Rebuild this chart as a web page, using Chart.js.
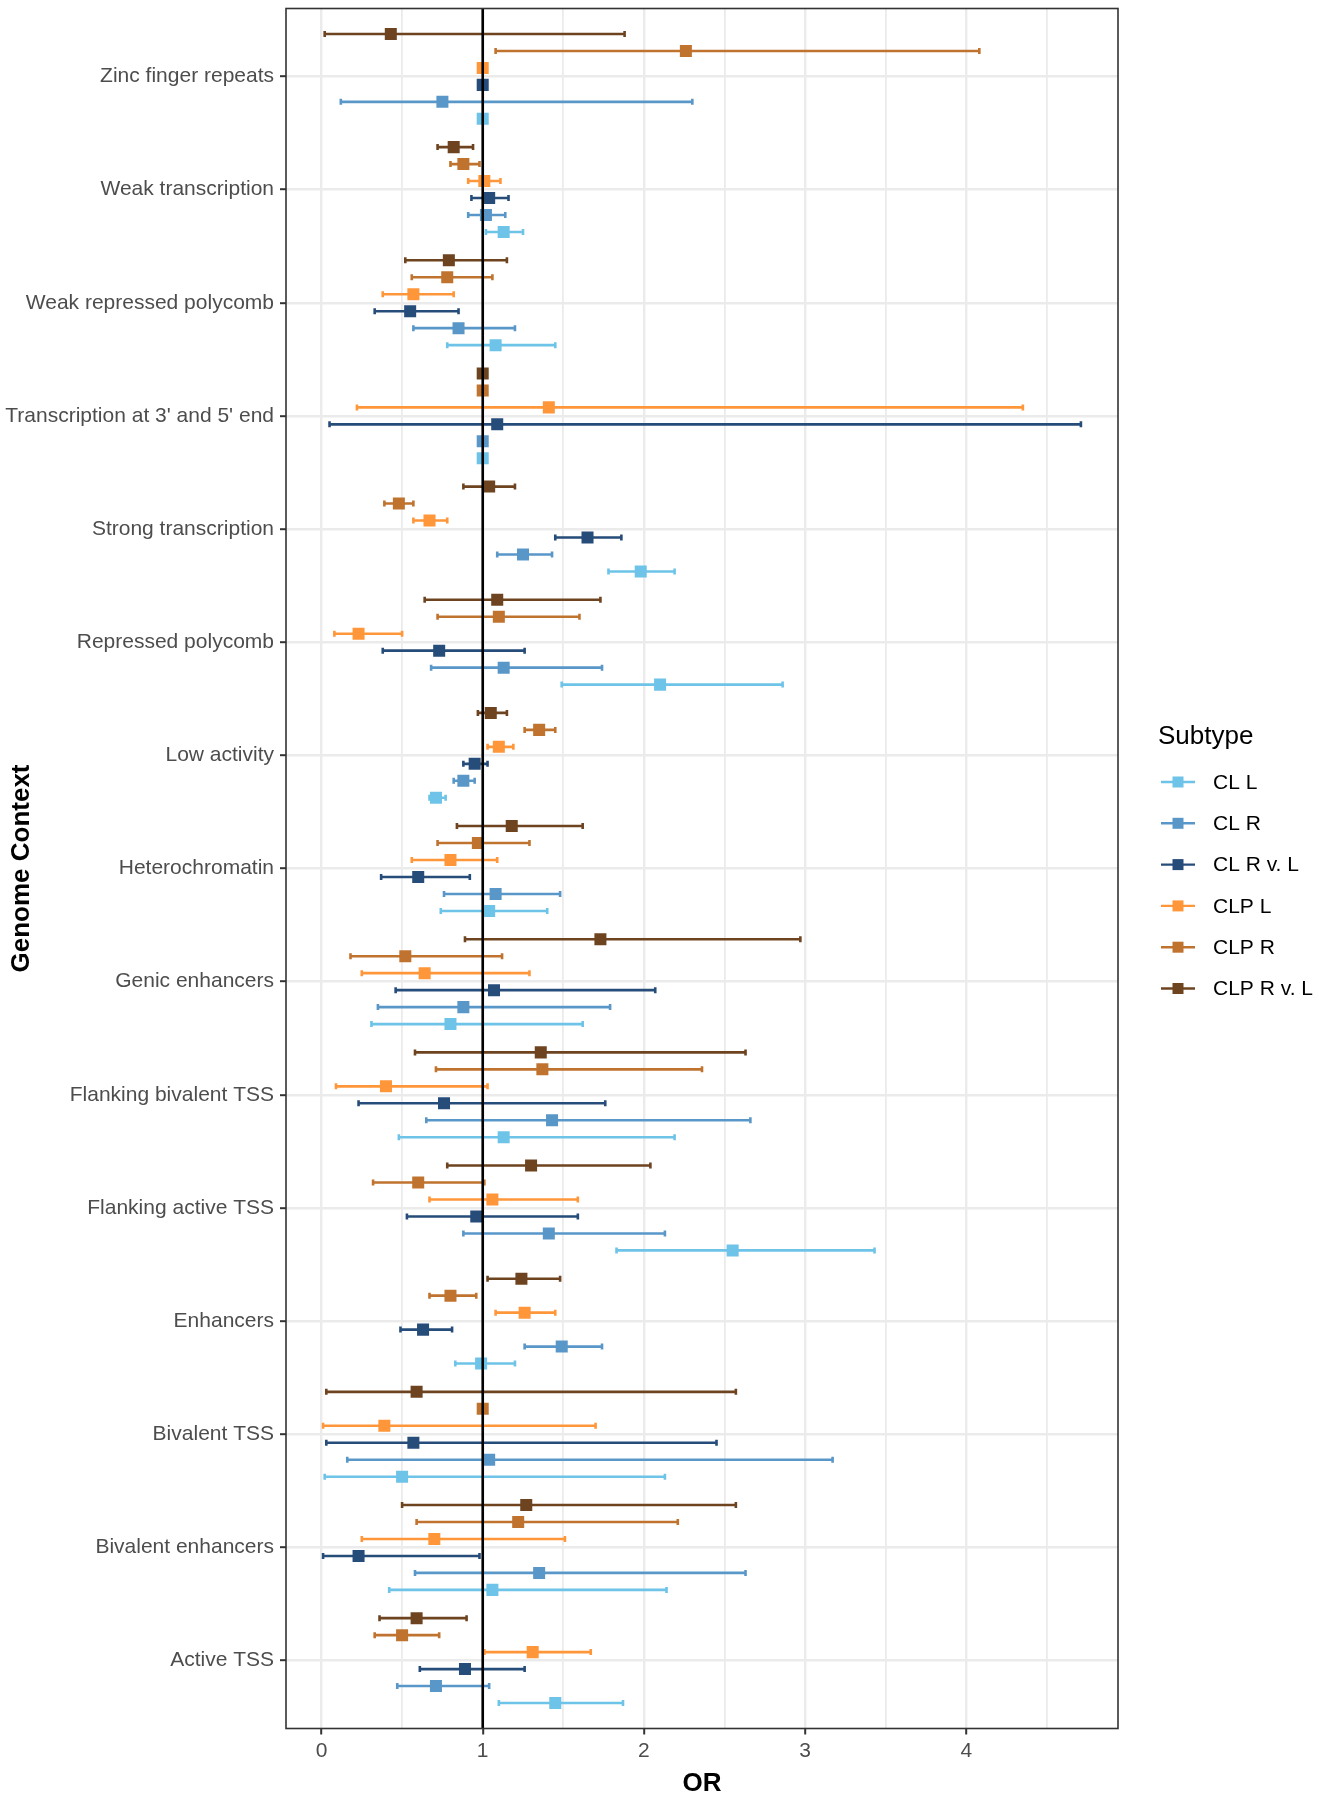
<!DOCTYPE html>
<html><head><meta charset="utf-8">
<script src="https://cdn.jsdelivr.net/npm/chart.js@4/dist/chart.umd.min.js"></script>
<style>html,body{margin:0;padding:0;background:#fff;} canvas{display:block;}</style>
</head><body>
<canvas id="c" width="1319" height="1800" style="width:1319px;height:1800px"></canvas>
<script>
// Categories listed top to bottom as they appear
const categories = ["Zinc finger repeats","Weak transcription","Weak repressed polycomb","Transcription at 3' and 5' end","Strong transcription","Repressed polycomb","Low activity","Heterochromatin","Genic enhancers","Flanking bivalent TSS","Flanking active TSS","Enhancers","Bivalent TSS","Bivalent enhancers","Active TSS"];
const seriesNames = ["CL L","CL R","CL R v. L","CLP L","CLP R","CLP R v. L"];
const seriesColors = ["#6EC3E8","#5A97C9","#264C7A","#FF973A","#C0732F","#6E4420"];
const xTickValues = [0,0.5,1,1.5,2,2.5,3,3.5,4,4.5];

const orCLL = [1.00,1.13,1.08,1.00,1.98,2.10,0.71,1.04,0.80,1.13,2.55,0.99,0.50,1.06,1.45];
const loCLL = [1.00,1.02,0.78,1.00,1.78,1.49,0.67,0.74,0.31,0.48,1.83,0.83,0.02,0.42,1.10];
const hiCLL = [1.00,1.25,1.45,1.00,2.19,2.86,0.77,1.40,1.62,2.19,3.43,1.20,2.13,2.14,1.87];

const orCLR = [0.75,1.02,0.85,1.00,1.25,1.13,0.88,1.08,0.88,1.43,1.41,1.49,1.04,1.35,0.71];
const loCLR = [0.12,0.91,0.57,1.00,1.09,0.68,0.82,0.76,0.35,0.65,0.88,1.26,0.16,0.58,0.47];
const hiCLR = [2.30,1.14,1.20,1.00,1.43,1.74,0.95,1.48,1.79,2.66,2.13,1.74,3.17,2.63,1.04];

const orCLRvL = [1.00,1.04,0.55,1.09,1.65,0.73,0.95,0.60,1.07,0.76,0.96,0.63,0.57,0.23,0.89];
const loCLRvL = [1.00,0.93,0.33,0.05,1.45,0.38,0.88,0.37,0.46,0.23,0.53,0.49,0.03,0.01,0.61];
const hiCLRvL = [1.00,1.16,0.85,4.71,1.86,1.26,1.03,0.92,2.07,1.76,1.59,0.81,2.45,0.98,1.26];

const orCLPL = [1.00,1.01,0.57,1.41,0.67,0.23,1.10,0.80,0.64,0.40,1.06,1.26,0.39,0.70,1.31];
const loCLPL = [1.00,0.91,0.38,0.22,0.57,0.08,1.03,0.56,0.25,0.09,0.67,1.08,0.01,0.25,1.01];
const hiCLPL = [1.00,1.11,0.82,4.35,0.78,0.50,1.19,1.09,1.29,1.03,1.59,1.45,1.70,1.51,1.67];

const orCLPR = [2.26,0.88,0.78,1.00,0.48,1.10,1.35,0.97,0.52,1.37,0.60,0.80,1.00,1.22,0.50];
const loCLPR = [1.08,0.80,0.56,1.00,0.39,0.72,1.26,0.72,0.18,0.71,0.32,0.67,1.00,0.59,0.33];
const hiCLPR = [4.08,0.98,1.06,1.00,0.57,1.60,1.45,1.29,1.12,2.36,1.01,0.96,1.00,2.21,0.73];

const orCLPRvL = [0.43,0.82,0.79,1.00,1.04,1.09,1.05,1.18,1.73,1.36,1.30,1.24,0.59,1.27,0.59];
const loCLPRvL = [0.02,0.72,0.52,1.00,0.88,0.64,0.97,0.84,0.89,0.58,0.78,1.03,0.03,0.50,0.36];
const hiCLPRvL = [1.88,0.94,1.15,1.00,1.20,1.73,1.15,1.62,2.97,2.63,2.04,1.48,2.57,2.57,0.90];

const orSeries = [orCLL, orCLR, orCLRvL, orCLPL, orCLPR, orCLPRvL];
const loSeries = [loCLL, loCLR, loCLRvL, loCLPL, loCLPR, loCLPRvL];
const hiSeries = [hiCLL, hiCLR, hiCLRvL, hiCLPL, hiCLPR, hiCLPRvL];

const FONT = '"Liberation Sans", Arial, Helvetica, sans-serif';
Chart.defaults.font.family = FONT;

const dodge = 0.15;
const datasets = seriesNames.map((name, s) => ({
  label: name,
  data: categories.map((c, i) => ({
    x: orSeries[s][i],
    y: i + (2.5 - s) * dodge,
    lo: loSeries[s][i],
    hi: hiSeries[s][i]
  })),
  pointStyle: 'rect',
  pointRadius: 8.5,
  pointBackgroundColor: seriesColors[s],
  pointBorderColor: seriesColors[s],
  pointBorderWidth: 0,
  borderColor: seriesColors[s],
  backgroundColor: seriesColors[s],
  showLine: false
}));

const CHART_LEFT = 286, CHART_RIGHT = 1118, CHART_TOP = 4, CHART_BOTTOM = 1728.5;

const extras = {
  id: 'extras',
  beforeDraw(chart) {
    const ctx = chart.ctx;
    ctx.save(); ctx.fillStyle = '#fff'; ctx.fillRect(0, 0, chart.width, chart.height); ctx.restore();
  },
  beforeDatasetsDraw(chart) {
    const {ctx, scales: {x, y}} = chart;
    const cap = 3;
    chart.data.datasets.forEach(ds => {
      ctx.save();
      ctx.strokeStyle = ds.borderColor;
      ctx.lineWidth = 2.6;
      ds.data.forEach(p => {
        const py = y.getPixelForValue(p.y);
        const x1 = x.getPixelForValue(p.lo), x2 = x.getPixelForValue(p.hi);
        ctx.beginPath();
        ctx.moveTo(x1, py); ctx.lineTo(x2, py);
        ctx.moveTo(x1, py - cap); ctx.lineTo(x1, py + cap);
        ctx.moveTo(x2, py - cap); ctx.lineTo(x2, py + cap);
        ctx.stroke();
      });
      ctx.restore();
    });
  },
  afterDatasetsDraw(chart) {
    const {ctx, chartArea: a, scales: {x}} = chart;
    const px = x.getPixelForValue(1);
    ctx.save();
    ctx.strokeStyle = '#000'; ctx.lineWidth = 2.6;
    ctx.beginPath(); ctx.moveTo(px, a.top); ctx.lineTo(px, a.bottom); ctx.stroke();
    ctx.restore();
  },
  afterDraw(chart) {
    const {ctx, chartArea: a} = chart;
    ctx.save();
    ctx.strokeStyle = '#333333'; ctx.lineWidth = 1.6;
    ctx.strokeRect(a.left, a.top, a.right - a.left, a.bottom - a.top);
    // legend
    ctx.fillStyle = '#000';
    ctx.textBaseline = 'middle';
    ctx.textAlign = 'left';
    ctx.font = '26px ' + FONT;
    ctx.fillText('Subtype', 1158, 737);
    ctx.font = '21px ' + FONT;
    seriesNames.forEach((n, k) => {
      const yy = 782 + k * 41.3;
      ctx.strokeStyle = seriesColors[k]; ctx.lineWidth = 2.4;
      ctx.beginPath(); ctx.moveTo(1161, yy); ctx.lineTo(1195, yy); ctx.stroke();
      ctx.fillStyle = seriesColors[k];
      ctx.fillRect(1172.5, yy - 5.5, 11, 11);
      ctx.fillStyle = '#000';
      ctx.fillText(n, 1213, yy + 1);
    });
    ctx.restore();
  }
};

new Chart(document.getElementById('c'), {
  type: 'scatter',
  data: { datasets },
  plugins: [extras],
  options: {
    responsive: false,
    maintainAspectRatio: false,
    animation: false,
    events: [],
    devicePixelRatio: 1,
    layout: { padding: { top: CHART_TOP, right: 1319 - CHART_RIGHT, left: 0, bottom: 0 } },
    plugins: { legend: { display: false }, tooltip: { enabled: false } },
    scales: {
      x: {
        type: 'linear', position: 'bottom', min: -0.22, max: 4.94,
        afterBuildTicks: s => { s.ticks = xTickValues.map(v => ({ value: v })); },
        afterFit: s => { s.height = 1800 - CHART_BOTTOM; s.paddingLeft = 0; s.paddingRight = 0; },
        ticks: {
          autoSkip: false, maxRotation: 0, padding: 4,
          color: '#4d4d4d', font: { size: 21 },
          callback: v => Number.isInteger(v) ? String(v) : ''
        },
        grid: {
          color: '#ebebeb',
          lineWidth: c => (c.tick && Number.isInteger(c.tick.value)) ? 2.4 : 1.8,
          tickColor: c => (c.tick && Number.isInteger(c.tick.value)) ? '#333333' : 'rgba(0,0,0,0)',
          tickLength: 6, tickWidth: 2, drawTicks: true
        },
        border: { display: false },
        title: { display: true, text: 'OR', color: '#000', font: { size: 26, weight: 'bold' }, padding: { top: 0, bottom: 1 } }
      },
      y: {
        type: 'linear', reverse: true, min: -0.6, max: 14.6,
        afterBuildTicks: s => { s.ticks = categories.map((c, i) => ({ value: i })); },
        afterFit: s => {
          s.width = CHART_LEFT; s.paddingTop = 0; s.paddingBottom = 0;
          if (s._margins) { s._margins.top = 0; s._margins.bottom = 0; }
        },
        ticks: {
          autoSkip: false, padding: 6,
          color: '#4d4d4d', font: { size: 21, lineHeight: 1 },
          callback: v => categories[v]
        },
        grid: { color: '#ebebeb', lineWidth: 2.4, tickColor: '#333333', tickLength: 6, tickWidth: 2, drawTicks: true },
        border: { display: false },
        title: { display: true, text: 'Genome Context', color: '#000', font: { size: 26, weight: 'bold' }, padding: { top: 6, bottom: 0 } }
      }
    }
  }
});
</script>
</body></html>
